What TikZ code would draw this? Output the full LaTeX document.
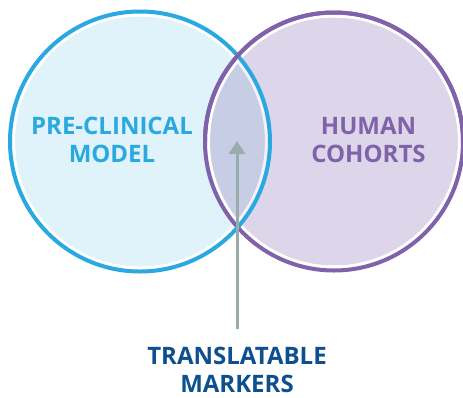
\documentclass[tikz,border=0pt]{standalone}
\usepackage{fontspec}
\setmainfont{Open Sans}
\usepackage{tikz}
\usetikzlibrary{arrows.meta,positioning}

\definecolor{preblue}{HTML}{2AA9E0}
\definecolor{prefill}{HTML}{E0F2FA}
\definecolor{humpurple}{HTML}{7F62A9}
\definecolor{humfill}{HTML}{DDD6EA}
\definecolor{overlapfill}{HTML}{C8CDE6}
\definecolor{arrowgrey}{HTML}{9AABAB}
\definecolor{markblue}{HTML}{0D4F8F}

\begin{document}
\begin{tikzpicture}[
    x=1pt, y=-1pt,
    label/.style={font=\fontsize{24}{28}\selectfont\bfseries, align=center, inner sep=0pt},
    ring/.style={line width=4pt},
    gap/.style={white, line width=3pt, opacity=0.7},
    arrow/.style={-{Triangle[width=16pt,length=13pt]}, line width=3pt, arrowgrey}
]
    \useasboundingbox (0,0) rectangle (463,397);
    \coordinate (L) at (140,141.5);
    \coordinate (R) at (334,141.5);

    % fills
    \fill[white] (L) circle (128);
    \fill[prefill] (L) circle (125);
    \fill[white] (R) circle (127);
    \fill[humfill] (R) circle (124);
    \begin{scope}
        \clip (L) circle (125);
        \fill[overlapfill] (R) circle (124);
    \end{scope}
    \draw[gap] (L) circle (126.5);
    \draw[gap] (R) circle (125.5);

    % rings
    \draw[ring, humpurple] (R) circle (129);
    \draw[ring, preblue] (L) circle (130);
    \begin{scope}
        \clip (0,0) rectangle (463,141.5);
        \draw[ring, humpurple] (R) circle (129);
    \end{scope}

    \node[label, text=preblue] (pre) at (112,140) {PRE-CLINICAL\\MODEL};
    \node[label, text=humpurple] (human) at (368.5,140) {HUMAN\\COHORTS};
    \node[label, text=markblue] (markers) at (237,370) {TRANSLATABLE\\MARKERS};

    \coordinate (tip) at (237,141);
    \draw[arrow, shorten <=18pt] (markers.north) -- (tip);
\end{tikzpicture}
\end{document}
